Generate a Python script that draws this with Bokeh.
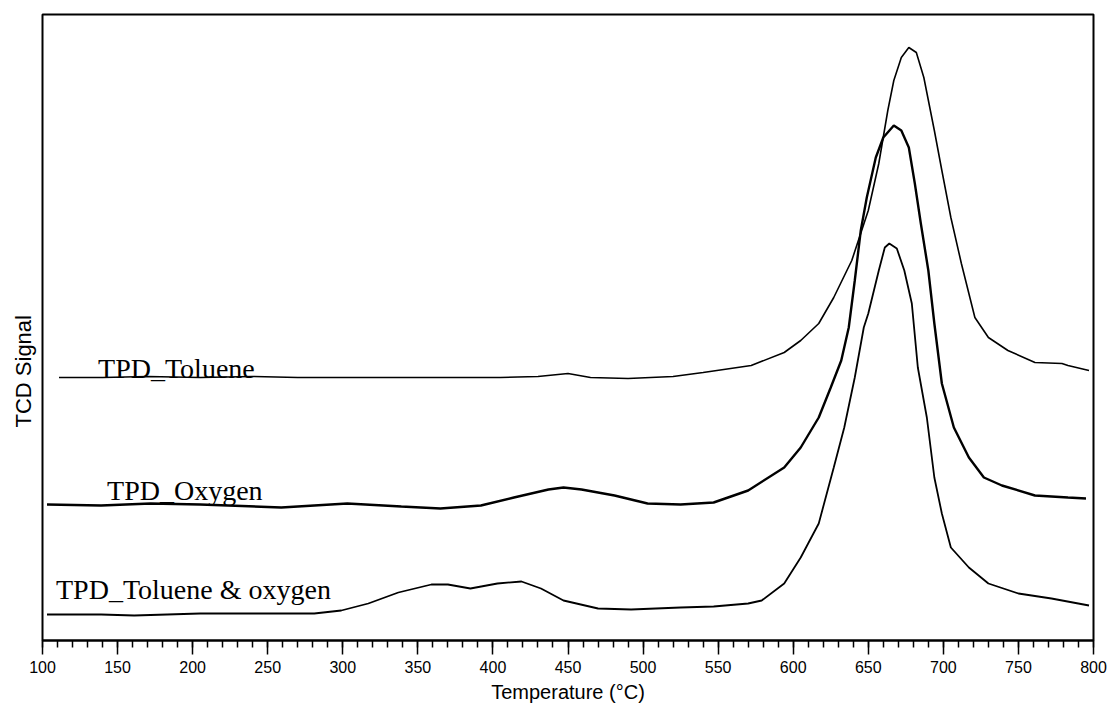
from bokeh.plotting import figure
from bokeh.models import Range1d, SingleIntervalTicker, Title, ColumnDataSource
from bokeh.core.properties import value
from bokeh.embed import file_html
from bokeh.resources import INLINE

# ---- data (temperature in °C, TCD signal in arbitrary units) ----
tol_T = [111, 140, 170, 205, 240, 270, 305, 340, 370, 405, 430, 450, 465, 490, 520, 540,
         572, 594, 605, 617, 627, 639, 650, 657, 663, 667, 672, 677, 682, 687, 694, 699,
         705, 712, 721, 730, 743, 761, 779, 783, 797]
tol_S = [263, 263, 264, 263, 264, 263, 263, 263, 263, 263, 264, 267, 263, 262, 264, 268,
         275, 288, 300, 317, 343, 380, 430, 477, 530, 560, 583, 593, 588, 563, 510, 470,
         423, 377, 323, 303, 290, 278, 277, 275, 270]

oxy_T = [103, 139, 172, 205, 259, 303, 339, 365, 392, 414, 437, 447, 459, 481, 503, 525,
         547, 570, 594, 605, 617, 625, 632, 637, 641, 645, 649, 655, 660, 667, 672, 677, 681,
         685, 690, 694, 699, 707, 717, 727, 739, 761, 783, 795]
oxy_S = [136, 135, 137, 136, 133, 137, 134, 132, 135, 143, 151, 153, 151, 145, 137, 136,
         138, 150, 173, 193, 223, 253, 280, 313, 360, 410, 443, 483, 503, 515, 510, 493, 457,
         417, 370, 317, 257, 213, 183, 163, 155, 145, 143, 142]

mix_T = [103, 139, 161, 205, 250, 281, 299, 317, 337, 359, 370, 385, 403, 419, 432, 447,
         470, 492, 525, 547, 570, 579, 594, 605, 617, 627, 634, 641, 647, 650, 657, 661,
         664, 669, 674, 679, 683, 689, 694, 699, 705, 717, 730, 750, 772, 797]
mix_S = [26, 26, 25, 27, 27, 27, 30, 37, 48, 56, 56, 52, 57, 59, 52, 40,
         32, 31, 33, 34, 37, 40, 57, 83, 117, 173, 213, 263, 313, 327, 370, 393,
         397, 392, 370, 337, 273, 223, 163, 127, 93, 73, 57, 47, 42, 35]

series_names = ["TPD_Toluene", "TPD_Oxygen", "TPD_Toluene & oxygen"]
x_label = "Temperature (°C)"
y_label = "TCD Signal"

# ---- figure ----
p = figure(frame_width=1051, frame_height=626, output_backend="svg",
           toolbar_location=None, x_range=Range1d(100, 800), y_range=Range1d(0, 626),
           min_border_left=42, min_border_top=14, min_border_right=16, min_border_bottom=10)
p.background_fill_color = "white"
p.border_fill_color = "white"
p.grid.visible = False
p.outline_line_color = "black"
p.outline_line_width = 2

p.yaxis.visible = False

xa = p.xaxis[0]
xa.ticker = SingleIntervalTicker(interval=50, num_minor_ticks=5)
xa.axis_line_color = "black"
xa.axis_line_width = 2
xa.major_tick_in = 0
xa.major_tick_out = 14
xa.minor_tick_in = 0
xa.minor_tick_out = 7
xa.major_tick_line_width = 1.5
xa.minor_tick_line_width = 1.5
xa.major_label_text_font = "Liberation Sans"
xa.major_label_text_font_size = "16px"
xa.major_label_text_color = "black"
xa.major_label_standoff = 6
xa.axis_label = x_label
xa.axis_label_text_font = "Liberation Sans"
xa.axis_label_text_font_size = "20px"
xa.axis_label_text_font_style = "normal"
xa.axis_label_text_color = "black"
xa.axis_label_standoff = 5

p.line(tol_T, tol_S, line_color="black", line_width=1.6)
p.line(oxy_T, oxy_S, line_color="black", line_width=2.4)
p.line(mix_T, mix_S, line_color="black", line_width=1.8)

lab = ColumnDataSource(dict(x=[137, 143, 109], y=[272, 150, 51], t=series_names))
p.text(x="x", y="y", text="t", source=lab, text_font=value("Liberation Serif"),
       text_font_size="28px", text_color="black", text_align="left",
       text_baseline="alphabetic")

# y-axis title at the left, shifted below the frame centre as in the reference
p.add_layout(Title(text=y_label, align="left", offset=213, standoff=14,
                   text_font="Liberation Sans", text_font_size="22px",
                   text_font_style="normal", text_color="black"), "left")

open("out.html", "w").write(file_html(p, INLINE))
